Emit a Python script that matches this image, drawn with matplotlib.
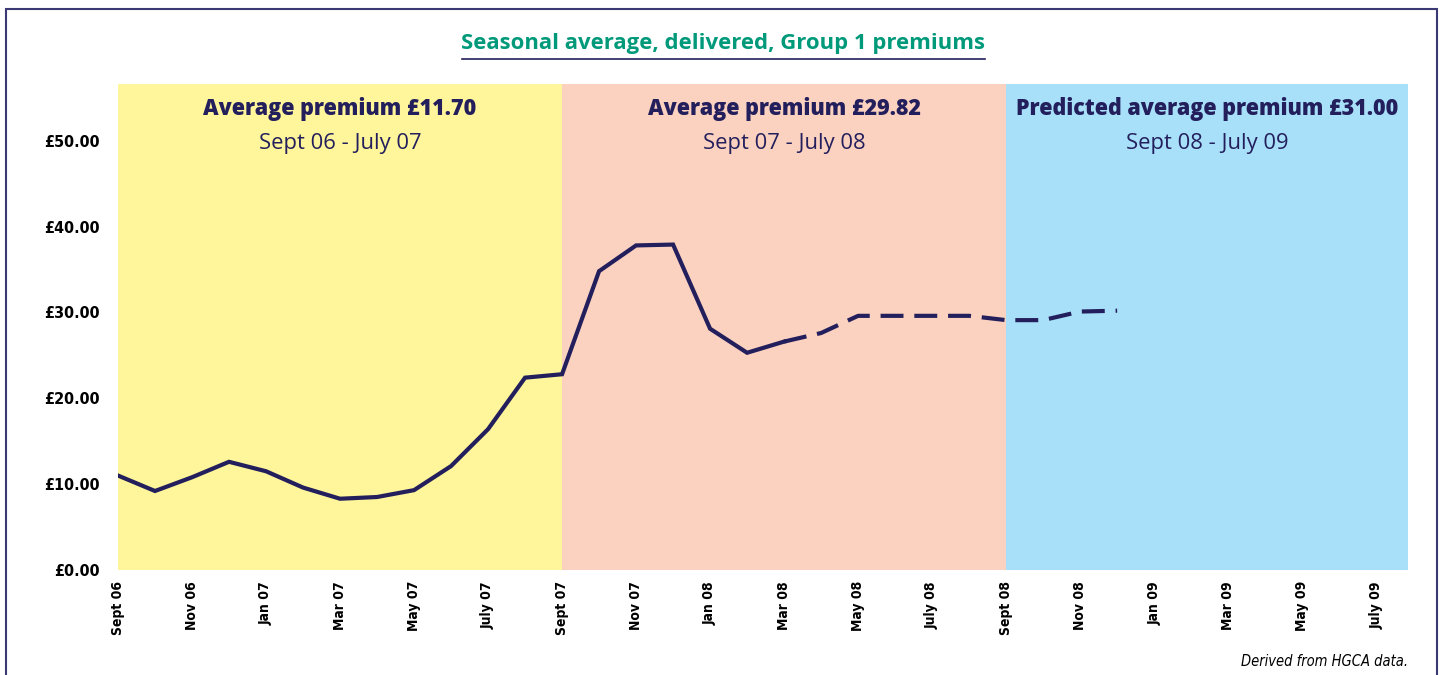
import matplotlib
matplotlib.use("Agg")
import matplotlib.pyplot as plt
from matplotlib.patches import Rectangle
from matplotlib.lines import Line2D
import numpy as np

# monthly premiums (GBP/t), Sept 06 onwards
premium = [11.0, 9.2, 10.8, 12.6, 11.5, 9.6, 8.3, 8.5, 9.3, 12.1, 16.4, 22.4,
           22.8, 34.8, 37.8, 37.9, 28.1, 25.3, 26.6, 27.6, 29.6, 29.6, 29.6,
           29.6, 29.1, 29.1, 30.1, 30.2]
dashed_from = 18  # estimates start at Mar 08

tick_labels = ["Sept 06", "Nov 06", "Jan 07", "Mar 07", "May 07", "July 07",
               "Sept 07", "Nov 07", "Jan 08", "Mar 08", "May 08", "July 08",
               "Sept 08", "Nov 08", "Jan 09", "Mar 09", "May 09", "July 09"]

seasons = ["Average premium £11.70", "Average premium £29.82",
           "Predicted average premium £31.00"]
season_dates = ["Sept 06 - July 07", "Sept 07 - July 08", "Sept 08 - July 09"]
season_start = [0, 12, 24]
season_colors = ["#FFF59A", "#FBD2C0", "#A8E0F9"]

NAVY = "#231F5C"
GREEN = "#00997A"
HEAD = ["Open Sans", "DejaVu Sans"]
COND = "DejaVu Sans"

fig = plt.figure(figsize=(14.47, 6.75), dpi=100)
ax = fig.add_axes([118 / 1447, 105 / 675, 1290 / 1447, 486 / 675])

xmax = 34.86
ymax = 56.6
ax.set_xlim(0, xmax)
ax.set_ylim(0, ymax)

ends = season_start[1:] + [xmax]
for s, e, c, t1, t2 in zip(season_start, ends, season_colors, seasons, season_dates):
    ax.axvspan(s, e, color=c, lw=0, zorder=0)
    mid = (s + e) / 2
    ax.text(mid, 53.7, t1, ha="center", va="center", fontsize=15.5,
            fontweight="heavy", color=NAVY, family=HEAD)
    ax.text(mid, 49.7, t2, ha="center", va="center", fontsize=15.8,
            color=NAVY, family=HEAD)

x = np.arange(len(premium))
ax.plot(x[:dashed_from + 1], premium[:dashed_from + 1], color=NAVY, lw=3,
        solid_joinstyle="miter", zorder=3)
ax.plot(x[dashed_from:], premium[dashed_from:], color=NAVY, lw=3,
        dashes=(5.5, 2.6), zorder=3)

ax.set_yticks(np.arange(0, 51, 10))
ax.set_yticklabels(["£%.2f" % v for v in np.arange(0, 51, 10)],
                   fontsize=11.5, fontweight="bold", family=COND,
                   fontstretch="condensed")
ax.set_xticks(np.arange(0, 2 * len(tick_labels), 2))
ax.set_xticklabels(tick_labels, rotation=90, fontsize=10,
                   fontweight="bold", family=COND, fontstretch="condensed",
                   va="top")
ax.tick_params(length=0)
ax.tick_params(axis="x", pad=8)
ax.tick_params(axis="y", pad=13)
for sp in ax.spines.values():
    sp.set_visible(False)

fig.text(723 / 1447, 1 - 44 / 675, "Seasonal average, delivered, Group 1 premiums",
         ha="center", va="center", fontsize=15.9, fontweight="bold",
         color=GREEN, family=HEAD)
fig.add_artist(Line2D([462 / 1447, 985 / 1447], [1 - 59 / 675, 1 - 59 / 675],
                      color=NAVY, lw=1.2))
fig.text(1408 / 1447, 1 - 662 / 675, "Derived from HGCA data.", ha="right",
         va="center", fontsize=10.5, style="italic", family=COND,
         fontstretch="condensed")

fig.add_artist(Rectangle((6 / 1447, -0.05), 1431 / 1447, 1.05 - 9 / 675,
                         transform=fig.transFigure, fill=False,
                         edgecolor="#3B3973", lw=1.5))

fig.savefig("out.png", dpi=100)
